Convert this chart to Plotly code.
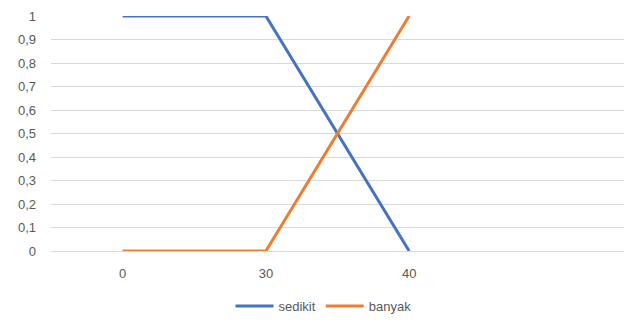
import plotly.graph_objects as go

categories = ["0", "30", "40", ""]
sedikit = [1, 1, 0]
banyak = [0, 0, 1]
y_ticks = [0, 0.1, 0.2, 0.3, 0.4, 0.5, 0.6, 0.7, 0.8, 0.9, 1]
y_labels = ["0", "0,1", "0,2", "0,3", "0,4", "0,5", "0,6", "0,7", "0,8", "0,9", "1"]

xpos = list(range(len(categories)))

fig = go.Figure()
fig.add_trace(go.Scatter(x=xpos[:len(sedikit)], y=sedikit, mode="lines", name="sedikit",
                         line=dict(color="#4472C4", width=3)))
fig.add_trace(go.Scatter(x=xpos[:len(banyak)], y=banyak, mode="lines", name="banyak",
                         line=dict(color="#ED7D31", width=3)))

fig.update_layout(
    width=627, height=320,
    margin=dict(l=51, r=3, t=16, b=69, autoexpand=False),
    paper_bgcolor="white", plot_bgcolor="white",
    font=dict(family="Liberation Sans, Arial, sans-serif", size=13, color="#595959"),
    showlegend=True,
    legend=dict(orientation="h", x=0.5 + 10 / 627, xanchor="center", xref="container",
                y=14 / 320, yanchor="middle", yref="container",
                font=dict(size=13, color="#595959"), itemwidth=38, tracegroupgap=0),
    xaxis=dict(range=[-0.5, len(categories) - 0.5], tickmode="array", tickvals=xpos,
               ticktext=categories, showgrid=False, zeroline=False, showline=False,
               ticks="", ticklen=0, ticklabelstandoff=13),
    yaxis=dict(range=[0, 1], tickmode="array", tickvals=y_ticks, ticktext=y_labels,
               showgrid=True, gridcolor="#D9D9D9", gridwidth=1, zeroline=True,
               zerolinecolor="#D9D9D9", zerolinewidth=1, showline=False, ticks="",
               ticklabelstandoff=14),
)

fig.write_html("out.html")
